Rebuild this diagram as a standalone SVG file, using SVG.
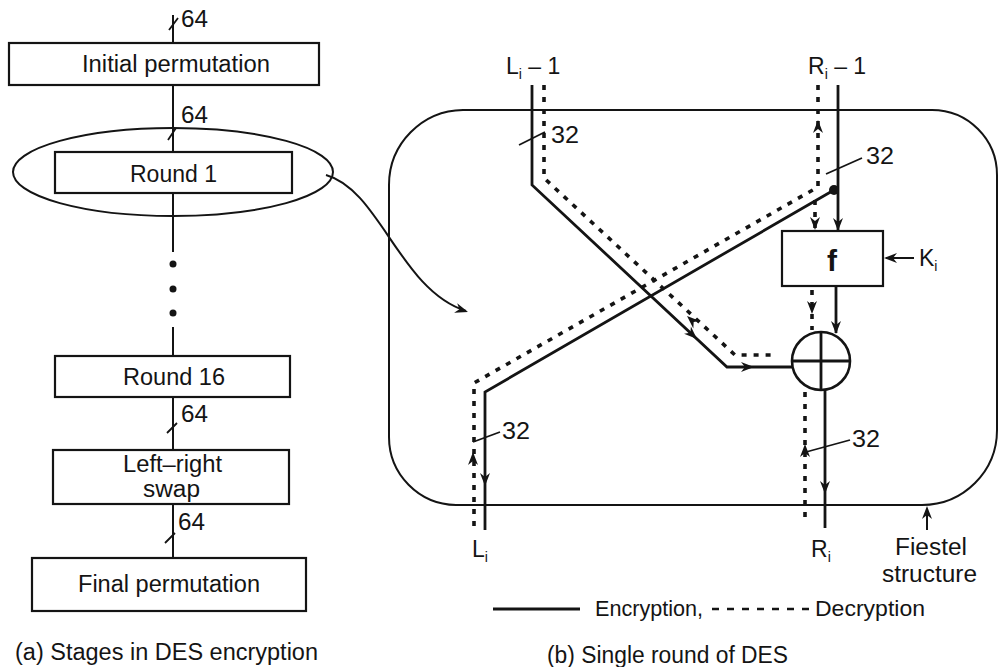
<svg xmlns="http://www.w3.org/2000/svg" xmlns:xlink="http://www.w3.org/1999/xlink" width="1001" height="667" viewBox="0 0 1001 667">
<style>
text{font-family:"Liberation Sans",Arial,sans-serif;fill:#141414}
.lbl{font-size:23px}
.c{text-anchor:middle}
.num{font-size:23px}
.box{fill:#fff;stroke:#141414;stroke-width:2.2}
.ln{fill:none;stroke:#141414;stroke-width:2}
.sol{fill:none;stroke:#141414;stroke-width:2.8;stroke-linejoin:miter}
.dot{fill:none;stroke:#141414;stroke-width:3.6;stroke-dasharray:5 7}
.thin{fill:none;stroke:#141414;stroke-width:1.8}
</style>
<defs>
<path id="ah" d="M0,0 L-13,-5 L-9,0 L-13,5 Z" fill="#141414"/>
</defs>
<rect width="1001" height="667" fill="#fff"/>

<!-- Left panel: stages -->
<g id="connectors-a">
<path class="ln" d="M173,15 V43 M173,85 V152 M173,193 V252 M173,327 V356 M173,397 V450 M173,504 V558"/>
<path class="thin" d="M169,30 L178,18 M168,140 L176,128 M167,433 L177,423 M165,543 L175,533"/>
<circle cx="173" cy="264" r="3.5" fill="#141414"/>
<circle cx="173" cy="289" r="3.5" fill="#141414"/>
<circle cx="173" cy="313" r="3.5" fill="#141414"/>
<text class="num" x="181" y="27" textLength="27" lengthAdjust="spacingAndGlyphs">64</text>
<text class="num" x="181" y="123" textLength="27" lengthAdjust="spacingAndGlyphs">64</text>
<text class="num" x="181" y="422" textLength="27" lengthAdjust="spacingAndGlyphs">64</text>
<text class="num" x="178" y="530" textLength="27" lengthAdjust="spacingAndGlyphs">64</text>
<path class="ln" d="M326,175 C380,190 400,290 466,311"/>
<use xlink:href="#ah" transform="translate(468,312) rotate(18)"/>
</g>
<g id="initial-permutation">
<rect class="box" x="9" y="43" width="310" height="42"/>
<text class="lbl" x="82" y="72" textLength="188" lengthAdjust="spacingAndGlyphs">Initial permutation</text>
</g>
<g id="round1">
<ellipse cx="173" cy="172" rx="160" ry="44" class="ln"/>
<rect class="box" x="55" y="152" width="237" height="41"/>
<text class="lbl" x="130" y="182" textLength="87" lengthAdjust="spacingAndGlyphs">Round 1</text>
</g>
<g id="round16">
<rect class="box" x="55" y="356" width="235" height="41"/>
<text class="lbl" x="123" y="385" textLength="102" lengthAdjust="spacingAndGlyphs">Round 16</text>
</g>
<g id="swap">
<rect class="box" x="53" y="450" width="236" height="54"/>
<text class="lbl" x="123" y="472" textLength="99" lengthAdjust="spacingAndGlyphs">Left–right</text>
<text class="lbl" x="143" y="497" textLength="57" lengthAdjust="spacingAndGlyphs">swap</text>
</g>
<g id="final-permutation">
<rect class="box" x="32" y="558" width="274" height="53"/>
<text class="lbl" x="78" y="592" textLength="182" lengthAdjust="spacingAndGlyphs">Final permutation</text>
</g>
<text class="lbl" x="15" y="660" textLength="303" lengthAdjust="spacingAndGlyphs">(a) Stages in DES encryption</text>

<!-- Right panel -->
<g id="feistel-box">
<path class="ln" d="M463,110 H932 A65,65 0 0 1 997,175 V430 A75,75 0 0 1 922,505 H456 A68,68 0 0 1 389,437 V185 A75,75 0 0 1 463,110 Z"/>
</g>
<g id="connectors-b">
<!-- encryption (solid) -->
<path class="sol" d="M532,85 V185 L727,367 H792"/>
<path class="sol" d="M838,85 V230"/>
<path class="sol" d="M834,190 L485,392 V530"/>
<path class="sol" d="M836,287 V333"/>
<path class="sol" d="M825,390 V528"/>
<circle cx="834" cy="190" r="5" fill="#141414"/>
<!-- decryption (dotted) -->
<path class="dot" d="M544,85 V178 L735,355 H774"/>
<path class="dot" d="M818,85 V187 L474,383 V530"/>
<path class="dot" d="M815,200 V228"/>
<path class="dot" d="M812,290 V330"/>
<path class="dot" d="M805,392 V522"/>
<!-- arrowheads -->
<use xlink:href="#ah" transform="translate(697,339) rotate(43)"/>
<use xlink:href="#ah" transform="translate(754,367)"/>
<use xlink:href="#ah" transform="translate(687,316) rotate(222)"/>
<use xlink:href="#ah" transform="translate(818,120) rotate(-90)"/>
<use xlink:href="#ah" transform="translate(838,231) rotate(90)"/>
<use xlink:href="#ah" transform="translate(815,230) rotate(90)"/>
<use xlink:href="#ah" transform="translate(836,334) rotate(90)"/>
<use xlink:href="#ah" transform="translate(812,314) rotate(90)"/>
<use xlink:href="#ah" transform="translate(825,494) rotate(90)"/>
<use xlink:href="#ah" transform="translate(805,444) rotate(-90)"/>
<use xlink:href="#ah" transform="translate(485,486) rotate(90)"/>
<use xlink:href="#ah" transform="translate(473,452) rotate(-90)"/>
<!-- K_i input -->
<path class="ln" d="M914,258 H886"/>
<use xlink:href="#ah" transform="translate(884,258) rotate(180)"/>
<!-- bit width ticks -->
<path class="thin" d="M519,145 L545,132"/>
<text class="num" x="551" y="143" textLength="28" lengthAdjust="spacingAndGlyphs">32</text>
<path class="thin" d="M826,174 L862,158"/>
<text class="num" x="866" y="164" textLength="28" lengthAdjust="spacingAndGlyphs">32</text>
<path class="thin" d="M473,442 L500,432"/>
<text class="num" x="502" y="439" textLength="28" lengthAdjust="spacingAndGlyphs">32</text>
<path class="thin" d="M806,452 L850,440"/>
<text class="num" x="852" y="447" textLength="28" lengthAdjust="spacingAndGlyphs">32</text>
<!-- Fiestel pointer -->
<path class="ln" d="M927,530 V510"/>
<use xlink:href="#ah" transform="translate(927,506) rotate(-90)"/>
</g>
<g id="f-box">
<rect class="box" x="782" y="231" width="101" height="55"/>
<text x="832" y="271" style="font-size:30px;font-weight:bold" class="c">f</text>
</g>
<g id="xor">
<circle cx="821" cy="361" r="29" fill="#fff" stroke="#141414" stroke-width="2.6"/>
<path class="sol" d="M792,361 H850 M821,332 V390"/>
</g>
<g id="labels-b">
<text style="font-size:23px" x="506" y="74">L<tspan style="font-size:14px" dy="5">i</tspan><tspan dy="-5"> – 1</tspan></text>
<text style="font-size:23px" x="808" y="74">R<tspan style="font-size:14px" dy="5">i</tspan><tspan dy="-5"> – 1</tspan></text>
<text style="font-size:23px" x="919" y="266">K<tspan style="font-size:14px" dy="5">i</tspan></text>
<text style="font-size:23px" x="472" y="557">L<tspan style="font-size:14px" dy="5">i</tspan></text>
<text style="font-size:23px" x="811" y="557">R<tspan style="font-size:14px" dy="5">i</tspan></text>
<text class="lbl" x="895" y="555" textLength="72" lengthAdjust="spacingAndGlyphs">Fiestel</text>
<text class="lbl" x="882" y="582" textLength="95" lengthAdjust="spacingAndGlyphs">structure</text>
</g>
<g id="legend">
<path class="sol" d="M493,609 H580"/>
<text style="font-size:22px" x="595" y="616" textLength="108" lengthAdjust="spacingAndGlyphs">Encryption,</text>
<path fill="none" stroke="#141414" stroke-width="2.4" stroke-dasharray="7 8" d="M712,609 H809"/>
<text style="font-size:22px" x="815" y="616" textLength="110" lengthAdjust="spacingAndGlyphs">Decryption</text>
</g>
<text class="lbl" x="547" y="663" textLength="241" lengthAdjust="spacingAndGlyphs">(b) Single round of DES</text>
</svg>
